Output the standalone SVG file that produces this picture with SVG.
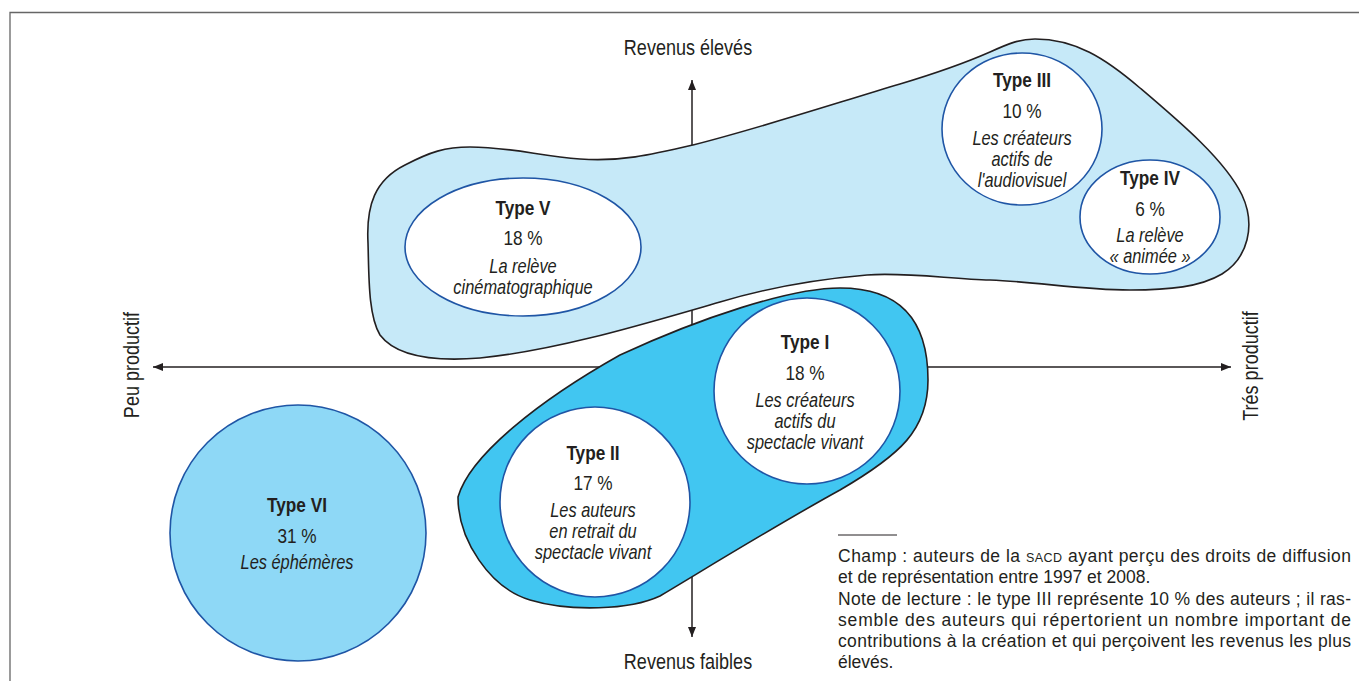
<svg xmlns="http://www.w3.org/2000/svg" width="1359" height="681" viewBox="0 0 1359 681">
<defs>
<marker id="arr" viewBox="0 0 10 8" refX="10" refY="4" markerWidth="10" markerHeight="8" markerUnits="userSpaceOnUse" orient="auto">
<path d="M0,0 L10,4 L0,8 Z" fill="#231f20"/>
</marker>
<style>
.cond{font-family:"Liberation Sans",Arial,sans-serif;fill:#231f20;text-anchor:middle}
.t{font-weight:bold;font-size:21px}
.p{font-size:21px}
.d{font-style:italic;font-size:20px}
.ax{font-size:22px}
.note{font-family:"Liberation Sans",Arial,sans-serif;font-size:17.5px;fill:#231f20}
.axis{stroke:#231f20;stroke-width:1.5;fill:none}
.blob{stroke:#231f20;stroke-width:1.6}
.el{fill:#fff;stroke:#1f55a5;stroke-width:1.6}
</style>
</defs>
<rect x="0" y="0" width="1359" height="681" fill="#fff"/>
<path d="M10,681 L10,12.5 L1359,12.5" fill="none" stroke="#666" stroke-width="1.3"/>

<g id="connectors">
<line class="axis" x1="692" y1="367" x2="153" y2="367" marker-end="url(#arr)"/>
<line class="axis" x1="692" y1="367" x2="1231" y2="367" marker-end="url(#arr)"/>
<line class="axis" x1="692" y1="367" x2="692" y2="80" marker-end="url(#arr)"/>
<line class="axis" x1="692" y1="367" x2="692" y2="637" marker-end="url(#arr)"/>
</g>

<g id="axis-labels">
<text class="cond ax" transform="translate(688,55) scale(0.82,1)">Revenus élevés</text>
<text class="cond ax" transform="translate(688,669) scale(0.82,1)">Revenus faibles</text>
<text class="cond ax" transform="translate(139,365) rotate(-90) scale(0.82,1)">Peu productif</text>
<text class="cond ax" transform="translate(1258,366) rotate(-90) scale(0.82,1)">Trés productif</text>
</g>

<g id="group-high">
<path class="blob" fill="#c6e9f8" d="M368,243 C366,205 375,180 405,165 C430,152 445,147 470,147 C510,147 540,156 580,159 C620,162 650,155 693,145 C760,128 830,105 900,84 C940,72 965,63 990,52 C1010,43 1020,39 1035,39 C1075,39 1105,58 1140,88 C1180,122 1225,160 1242,195 C1256,225 1248,258 1222,274 C1200,287 1170,290 1130,290 C1080,290 1040,282 990,280 C950,279 905,272 867,275 C820,279 770,287 720,302 C650,322 560,350 480,358 C430,362 395,355 380,335 C368,315 369,275 368,243 Z"/>
</g>

<g id="group-live">
<path class="blob" fill="#41c6f1" d="M458,497 C470,455 540,400 620,355 C700,318 790,288 840,288 C900,288 928,320 928,380 C928,430 900,455 840,490 C780,523 720,560 660,596 C630,610 570,612 530,600 C490,588 458,540 458,497 Z"/>
</g>

<g id="type6">
<circle cx="298" cy="533" r="128" fill="#8ed8f6" stroke="#1f55a5" stroke-width="1.6"/>
<g transform="translate(297,0) scale(0.82,1)">
<text class="cond t" x="0" y="512">Type VI</text>
<text class="cond p" x="0" y="543">31 %</text>
<text class="cond d" x="0" y="569">Les éphémères</text>
</g>
</g>

<g id="type5">
<ellipse class="el" cx="523" cy="247" rx="118" ry="69"/>
<g transform="translate(523,0) scale(0.82,1)">
<text class="cond t" x="0" y="215">Type V</text>
<text class="cond p" x="0" y="245">18 %</text>
<text class="cond d" x="0" y="273">La relève</text>
<text class="cond d" x="0" y="294">cinématographique</text>
</g>
</g>

<g id="type3">
<ellipse class="el" cx="1022" cy="129" rx="80" ry="76"/>
<g transform="translate(1022,0) scale(0.82,1)">
<text class="cond t" x="0" y="87">Type III</text>
<text class="cond p" x="0" y="118">10 %</text>
<text class="cond d" x="0" y="145">Les créateurs</text>
<text class="cond d" x="0" y="166">actifs de</text>
<text class="cond d" x="0" y="187">l'audiovisuel</text>
</g>
</g>

<g id="type4">
<ellipse class="el" cx="1150" cy="217" rx="70" ry="57"/>
<g transform="translate(1150,0) scale(0.82,1)">
<text class="cond t" x="0" y="185">Type IV</text>
<text class="cond p" x="0" y="216">6 %</text>
<text class="cond d" x="0" y="242">La relève</text>
<text class="cond d" x="0" y="263">« animée »</text>
</g>
</g>

<g id="type1">
<circle class="el" cx="807" cy="391" r="93"/>
<g transform="translate(805,0) scale(0.82,1)">
<text class="cond t" x="0" y="349">Type I</text>
<text class="cond p" x="0" y="380">18 %</text>
<text class="cond d" x="0" y="407">Les créateurs</text>
<text class="cond d" x="0" y="428">actifs du</text>
<text class="cond d" x="0" y="449">spectacle vivant</text>
</g>
</g>

<g id="type2">
<circle class="el" cx="595" cy="502" r="95"/>
<g transform="translate(593,0) scale(0.82,1)">
<text class="cond t" x="0" y="460">Type II</text>
<text class="cond p" x="0" y="490">17 %</text>
<text class="cond d" x="0" y="517">Les auteurs</text>
<text class="cond d" x="0" y="538">en retrait du</text>
<text class="cond d" x="0" y="559">spectacle vivant</text>
</g>
</g>

<g id="notes">
<line x1="838" y1="535" x2="897" y2="535" stroke="#231f20" stroke-width="1"/>
<text class="note" x="838" y="562" textLength="513" lengthAdjust="spacing">Champ : auteurs de la <tspan font-size="12.5px">SACD</tspan> ayant perçu des droits de diffusion</text>
<text class="note" x="838" y="583">et de représentation entre 1997 et 2008.</text>
<text class="note" x="838" y="605" textLength="513" lengthAdjust="spacing">Note de lecture : le type III représente 10 % des auteurs ; il ras-</text>
<text class="note" x="838" y="626" textLength="513" lengthAdjust="spacing">semble des auteurs qui répertorient un nombre important de</text>
<text class="note" x="838" y="647" textLength="513" lengthAdjust="spacing">contributions à la création et qui perçoivent les revenus les plus</text>
<text class="note" x="838" y="668">élevés.</text>
</g>
</svg>
